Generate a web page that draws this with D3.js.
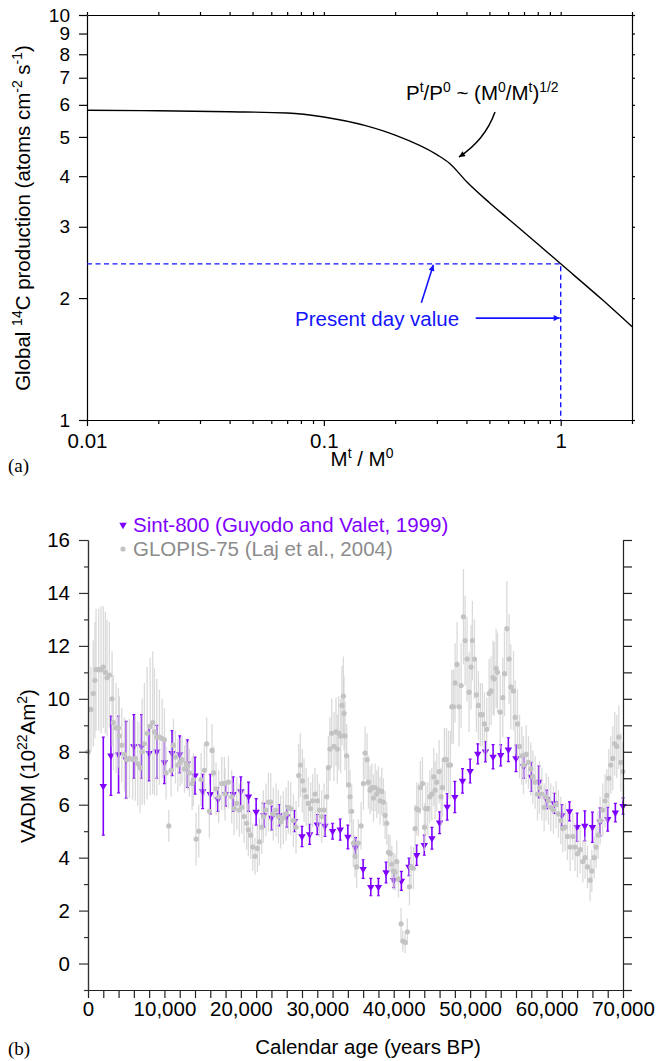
<!DOCTYPE html>
<html>
<head>
<meta charset="utf-8">
<script src="https://cdn.jsdelivr.net/npm/d3@7"></script>
<style>
body { margin: 0; background: #fff; }
svg { display: block; font-family: "Liberation Sans", Arial, Helvetica, sans-serif; }
</style>
</head>
<body>
<svg id="chart" width="657" height="1061"></svg>
<script>
// ---- panel (a): production rate vs dipole moment ----
const mRatio = [0.01, 0.02, 0.04, 0.07, 0.1, 0.15, 0.2, 0.3, 0.34, 0.4, 0.5, 0.6, 0.8, 1, 1.5, 2];
const prodRate = [5.82, 5.80, 5.77, 5.73, 5.6, 5.33, 5.05, 4.52, 4.3, 3.88, 3.44, 3.14, 2.72, 2.43, 1.98, 1.70];
const presentM = 1;
const presentP = 2.43;
const xTicksA = [0.01, 0.1, 1];
const yTicksA = [1, 2, 3, 4, 5, 6, 7, 8, 9, 10];

// ---- panel (b): VADM records ----
const sintAge = d3.range(2000, 70001, 1000);
const sintVadm = [6.7, 7.85, 7.9, 7.7, 8.2, 8.2, 7.95, 8.0, 7.6, 7.95,
  7.9, 7.55, 7.1, 6.5, 6.4, 6.2, 6.4, 6.4, 6.5, 6.3,
  5.73, 5.6, 5.5, 5.6, 5.55, 5.38, 4.8, 4.88, 5.25, 5.2,
  5.0, 5.06, 4.78, 4.38, 3.57, 2.89, 2.89, 3.44, 3.15, 3.12,
  3.65, 4.09, 4.47, 4.73, 5.32, 5.92, 6.29, 6.9, 7.27, 7.92,
  8.0, 7.81, 7.87, 8.08, 7.75, 7.45, 7.05, 6.86, 6.2, 6.05,
  5.6, 5.75, 5.15, 5.2, 5.15, 5.35, 5.45, 5.7, 5.95];
const sintErr = [1.85, 1.5, 1.45, 1.45, 1.2, 1.2, 1.05, 1.0, 0.8, 0.85,
  0.7, 0.9, 0.7, 0.65, 0.75, 0.45, 0.45, 0.65, 0.55, 0.55,
  0.5, 0.45, 0.45, 0.4, 0.4, 0.4, 0.38, 0.38, 0.38, 0.4,
  0.3, 0.4, 0.45, 0.38, 0.35, 0.33, 0.33, 0.39, 0.28, 0.36,
  0.33, 0.38, 0.38, 0.41, 0.41, 0.5, 0.59, 0.46, 0.45, 0.38,
  0.38, 0.46, 0.4, 0.45, 0.5, 0.45, 0.55, 0.6, 0.35, 0.38,
  0.4, 0.36, 0.53, 0.57, 0.57, 0.53, 0.45, 0.35, 0.31];

const glopisAge = [0, 390, 690, 900, 1050, 1400, 1700, 2000, 2270, 2490,
  2800, 3150, 3320, 3670, 3980, 4100, 4420, 4770, 5070, 5420,
  5850, 6200, 6510, 6820, 7080, 7380, 7740, 8130, 8470, 8690,
  9000, 9350, 9700, 10000, 10220, 10570, 10870, 11180, 11440, 11750,
  12050, 12300, 12620, 12830, 13050, 13270, 13620, 13790, 14140, 14490,
  14790, 15230, 15530, 15880, 16230, 16450, 16750, 17100, 17500, 17840,
  17930, 18370, 18800, 19110, 19460, 19800, 20110, 20420, 20760, 20980,
  21290, 21550, 21850, 22160, 22420, 22730, 22950, 23290, 23600, 23900,
  24250, 24600, 24910, 25210, 25560, 25910, 26210, 26520, 26870, 27220,
  27570, 27790, 28050, 28270, 28530, 28830, 29140, 29400, 29700, 30010,
  30270, 30570, 30880, 31230, 31450, 31660, 31880, 32190, 32450, 32620,
  32800, 33060, 33230, 33410, 33500, 33630, 33840, 34110, 34280, 34500,
  34720, 34940, 35150, 35370, 35730, 36040, 36250, 36520, 36690, 36910,
  37130, 37350, 37560, 37780, 38000, 38220, 38440, 38650, 38870, 39090,
  39310, 39530, 39750, 39960, 40180, 40400, 40620, 40960, 41180, 41490,
  41790, 42060, 42270, 42580, 42800, 43010, 43230, 43490, 43760, 44020,
  44190, 44450, 44720, 44980, 45240, 45410, 45630, 45940, 46200, 46370,
  46630, 46900, 47160, 47420, 47590, 47810, 48030, 48290, 48550, 48820,
  49120, 49340, 49600, 49860, 50120, 50290, 50560, 50820, 51080, 51340,
  51600, 51860, 52170, 52480, 52740, 53000, 53140, 53400, 53580, 53930,
  54270, 54490, 54800, 55100, 55320, 55670, 55890, 56190, 56460, 56760,
  56980, 57330, 57630, 57940, 58200, 58500, 58810, 59070, 59380, 59680,
  59940, 60250, 60550, 60900, 61250, 61560, 61860, 62120, 62430, 62730,
  63080, 63430, 63730, 64040, 64390, 64740, 65040, 65350, 65700, 65920,
  66220, 66480, 66740, 67010, 67350, 67660, 67880, 68140, 68400, 68660,
  68920, 69190, 69450, 69710, 69970];
const glopisVadm = [8.0, 9.6, 10.2, 10.7, 11.1, 11.1, 11.1, 11.2, 11.0, 10.8,
  10.9, 10.0, 9.1, 8.9, 8.9, 8.6, 8.25, 7.9, 7.7, 7.75,
  7.7, 7.75, 7.55, 7.4, 8.0, 8.3, 8.7, 8.95, 9.1, 8.75,
  8.55, 8.55, 8.5, 8.45, 7.2, 5.2, 7.3, 8.25, 7.8, 7.5,
  7.6, 7.7, 7.35, 7.55, 7.45, 7.2, 6.8, 6.95, 4.7, 5.0,
  6.95, 7.3, 8.3, 5.75, 8.05, 7.2, 6.6, 6.3, 6.8, 6.8,
  6.4, 6.85, 6.3, 5.85, 6.05, 5.8, 5.9, 5.55, 5.3, 5.05,
  4.85, 4.4, 4.05, 4.35, 4.6, 5.15, 5.55, 5.8, 6.1, 6.1,
  5.65, 5.8, 5.55, 5.35, 5.5, 5.65, 5.9, 5.85, 5.4, 5.15,
  7.1, 7.5, 6.9, 6.55, 6.3, 6.05, 5.85, 6.15, 6.4, 6.15,
  5.8, 5.55, 5.8, 6.3, 7.4, 8.1, 8.7, 8.2, 8.75, 8.1,
  8.7, 8.6, 9.75, 10.1, 9.45, 8.6, 7.85, 6.75, 6.3, 5.75,
  4.55, 4.05, 3.65, 4.55, 5.2, 6.8, 7.95, 7.7, 6.85, 6.55,
  6.65, 6.25, 6.65, 6.4, 6.55, 6.15, 6.5, 6.1, 5.6, 5.3,
  4.2, 4.15, 3.75, 3.5, 3.45, 3.85, 3.2, 1.5, 0.85, 0.8,
  1.2, 2.9, 3.65, 3.6, 5.1, 5.85, 5.8, 6.65, 6.8, 5.15,
  5.85, 5.85, 6.3, 6.4, 7.05, 6.55, 6.85, 7.25, 6.3, 6.65,
  7.7, 7.7, 7.5, 7.5, 9.7, 9.7, 10.6, 11.3, 9.7, 10.5,
  13.1, 12.2, 11.5, 10.25, 11.2, 12.2, 11.5, 10.15, 9.75, 9.4,
  9.4, 9.05, 8.85, 10.2, 10.3, 10.8, 10.75, 11.15, 11.0, 9.5,
  10.05, 10.95, 12.65, 11.5, 10.45, 10.3, 9.3, 9.05, 8.2, 7.85,
  7.5, 7.9, 7.6, 7.35, 7.05, 6.85, 6.4, 6.65, 6.4, 5.9,
  6.3, 6.15, 5.9, 5.8, 6.0, 5.65, 5.4, 5.1, 5.15, 4.8,
  4.4, 4.8, 4.4, 4.15, 4.3, 3.85, 4.0, 3.65, 3.15, 3.5,
  4.0, 4.4, 4.85, 5.4, 5.8, 6.15, 6.35, 7.0, 7.5, 7.75,
  8.3, 8.2, 8.55, 7.6, 7.25];
const glopisErr = [1.0, 1.6, 2.0, 2.2, 2.3, 2.3, 2.4, 2.3, 2.3, 2.2,
  2.0, 1.8, 1.8, 1.7, 1.5, 1.5, 1.4, 1.4, 1.5, 1.5,
  1.5, 1.6, 1.6, 1.7, 2.0, 2.3, 2.5, 2.6, 2.7, 2.4,
  2.2, 1.8, 1.5, 1.2, 1.0, 0.6, 1.0, 1.0, 1.0, 1.0,
  0.9, 0.9, 0.9, 0.9, 0.9, 0.9, 1.0, 1.0, 1.0, 1.0,
  1.0, 1.0, 1.0, 1.0, 1.0, 1.0, 1.0, 1.0, 1.0, 1.0,
  1.0, 1.0, 1.0, 1.0, 1.0, 1.0, 1.0, 1.0, 1.0, 1.0,
  0.9, 0.9, 0.7, 0.9, 0.9, 1.0, 1.0, 1.0, 1.1, 1.1,
  1.0, 1.0, 1.0, 1.0, 1.0, 1.0, 1.0, 1.0, 1.0, 1.0,
  1.2, 1.2, 1.2, 1.2, 1.1, 1.0, 1.0, 1.0, 1.0, 1.0,
  1.0, 1.0, 1.0, 1.1, 1.2, 1.2, 1.3, 1.3, 1.3, 1.3,
  1.4, 1.4, 1.5, 1.5, 1.4, 1.3, 1.2, 1.1, 1.0, 1.0,
  0.9, 0.8, 0.8, 0.9, 0.9, 1.0, 1.0, 1.0, 1.0, 0.9,
  0.9, 0.9, 0.9, 0.9, 0.9, 0.9, 0.9, 0.9, 0.9, 0.8,
  0.7, 0.7, 0.7, 0.7, 0.7, 0.8, 0.7, 0.6, 0.4, 0.4,
  0.5, 0.7, 0.8, 0.8, 0.9, 1.0, 1.0, 1.0, 1.0, 0.9,
  1.0, 1.0, 1.0, 1.0, 1.1, 1.1, 1.1, 1.2, 1.1, 1.1,
  1.2, 1.2, 1.3, 1.3, 1.4, 1.4, 1.5, 1.6, 1.5, 1.6,
  1.8, 1.7, 1.6, 1.5, 1.6, 1.5, 1.5, 1.4, 1.3, 1.2,
  1.2, 1.2, 1.2, 1.3, 1.3, 1.4, 1.4, 1.5, 1.5, 1.4,
  1.5, 1.6, 1.8, 1.7, 1.6, 1.5, 1.4, 1.3, 1.2, 1.1,
  1.1, 1.1, 1.0, 1.0, 1.0, 1.0, 1.0, 1.0, 1.0, 0.9,
  0.9, 0.9, 0.9, 0.9, 0.9, 0.9, 0.9, 0.9, 0.9, 0.9,
  0.9, 0.9, 0.9, 0.9, 0.9, 0.8, 0.8, 0.8, 0.8, 0.8,
  0.8, 0.8, 0.9, 0.9, 1.0, 1.0, 1.0, 1.1, 1.1, 1.2,
  1.2, 1.2, 1.2, 1.1, 1.1];
const yTicksB = d3.range(0, 17, 2);
const xTicksB = d3.range(0, 70001, 2000);

const FS = 20.5;
const BLUE = "#1414ff";
const PURPLE = "#7f00ff";

const svg = d3.select("#chart");
svg.append("rect").attr("width", 657).attr("height", 1061).attr("fill", "#fff");

const defs = svg.append("defs");
function arrowHead(id, color) {
    defs.append("marker")
        .attr("id", id)
        .attr("viewBox", "0 0 10 10")
        .attr("refX", 10).attr("refY", 5)
        .attr("markerWidth", 9).attr("markerHeight", 6)
        .attr("markerUnits", "userSpaceOnUse")
        .attr("orient", "auto")
        .append("path")
        .attr("d", "M0,0L10,5L0,10z")
        .attr("fill", color);
}
arrowHead("arrBlack", "#000");
arrowHead("arrBlue", BLUE);

// text with superscripts: parts = [[text, isSup], ...]
function rich(el, parts, fs) {
    let up = false;
    parts.forEach(function (p) {
        const t = el.append("tspan").text(p[0]);
        if (p[1]) {
            t.attr("font-size", fs * 0.68);
            if (!up) { t.attr("dy", -0.4 * fs); up = true; }
        } else if (up) {
            t.attr("dy", 0.4 * fs);
            up = false;
        }
    });
    return el;
}

function styleAxis(g, color, fs) {
    g.attr("font-family", null).attr("font-size", fs || FS);
    g.selectAll("path,line").attr("stroke", color).attr("stroke-width", 1.2);
    g.selectAll("text").attr("fill", "#000");
}

// ================= panel (a) =================
const xA = d3.scaleLog().domain([0.01, 2]).range([87, 632]);
const yA = d3.scaleLog().domain([1, 10]).range([420, 15]);

const minorA = [];
[0.01, 0.1].forEach(function (dec) {
    for (let k = 2; k <= 9; k++) minorA.push(+(dec * k).toFixed(3));
});
minorA.push(2);

const gA = svg.append("g");

gA.append("g").attr("transform", "translate(0,420)")
    .call(d3.axisBottom(xA).tickValues(xTicksA).tickFormat(d => String(d)).tickSize(6).tickPadding(7).tickSizeOuter(0))
    .call(g => styleAxis(g, "#000"));
gA.append("g").attr("transform", "translate(0,420)")
    .call(d3.axisBottom(xA).tickValues(minorA).tickFormat("").tickSize(4).tickSizeOuter(0))
    .call(g => styleAxis(g, "#000"));
gA.append("g").attr("transform", "translate(0,15)")
    .call(d3.axisTop(xA).tickValues(xTicksA.concat(minorA)).tickFormat("").tickSize(3).tickSizeOuter(0))
    .call(g => styleAxis(g, "#000"));
gA.append("g").attr("transform", "translate(87,0)")
    .call(d3.axisLeft(yA).tickValues(yTicksA).tickFormat(d3.format("d")).tickSize(8).tickPadding(9).tickSizeOuter(0))
    .call(g => styleAxis(g, "#000", 19));
gA.append("g").attr("transform", "translate(632,0)")
    .call(d3.axisRight(yA).tickValues(yTicksA).tickFormat("").tickSize(3).tickSizeOuter(0))
    .call(g => styleAxis(g, "#000"));

// present day dashed guides
gA.append("path")
    .attr("d", d3.line()([[xA(0.01), yA(presentP)], [xA(presentM), yA(presentP)], [xA(presentM), yA(1)]]))
    .attr("fill", "none").attr("stroke", BLUE).attr("stroke-width", 1.4)
    .attr("stroke-dasharray", "5,3.5");

// production curve
const curveData = mRatio.map((m, i) => [m, prodRate[i]]);
gA.append("path")
    .datum(curveData)
    .attr("d", d3.line().x(d => xA(d[0])).y(d => yA(d[1])).curve(d3.curveMonotoneX))
    .attr("fill", "none").attr("stroke", "#000").attr("stroke-width", 1.4);

// formula annotation
rich(gA.append("text").attr("x", 406).attr("y", 100).attr("font-size", FS),
    [["P"], ["t", 1], ["/P"], ["0", 1], [" ~ (M"], ["0", 1], ["/M"], ["t", 1], [")"], ["1/2", 1]], FS);
gA.append("path")
    .attr("d", "M495,112Q485,140 459,157")
    .attr("fill", "none").attr("stroke", "#000").attr("stroke-width", 1.5)
    .attr("marker-end", "url(#arrBlack)");

// present day value
gA.append("text").attr("x", 295).attr("y", 326).attr("font-size", FS)
    .attr("fill", BLUE).text("Present day value");
const tipH = [xA(0.29), yA(presentP) + 1];
gA.append("line")
    .attr("x1", tipH[0] - 12).attr("y1", tipH[1] + 38)
    .attr("x2", tipH[0]).attr("y2", tipH[1])
    .attr("stroke", BLUE).attr("stroke-width", 1.6)
    .attr("marker-end", "url(#arrBlue)");
const tipV = [xA(presentM) - 1, yA(1.785)];
gA.append("line")
    .attr("x1", tipV[0] - 84).attr("y1", tipV[1])
    .attr("x2", tipV[0]).attr("y2", tipV[1])
    .attr("stroke", BLUE).attr("stroke-width", 1.6)
    .attr("marker-end", "url(#arrBlue)");

// axis titles (a)
rich(gA.append("text").attr("x", 362).attr("y", 466).attr("text-anchor", "middle").attr("font-size", FS),
    [["M"], ["t", 1], [" / M"], ["0", 1]], FS);
rich(gA.append("text").attr("transform", "translate(30,218) rotate(-90)").attr("text-anchor", "middle").attr("font-size", FS),
    [["Global "], ["14", 1], ["C production (atoms cm"], ["-2", 1], [" s"], ["-1", 1], [")"]], FS);
gA.append("text").attr("x", 8).attr("y", 472).attr("font-family", "'Liberation Serif', 'Times New Roman', serif")
    .attr("font-size", 19).text("(a)");

// ================= panel (b) =================
const xB = d3.scaleLinear().domain([0, 70000]).range([88, 623]);
const yB = d3.scaleLinear().domain([-1, 16]).range([990, 540]);
const gB = svg.append("g");

// Sint-800 (drawn first, GLOPIS overlays it)
const sint = sintAge.map((a, i) => ({ age: a, v: sintVadm[i], e: sintErr[i] }));
const sintG = gB.append("g");
sintG.selectAll("line.bar").data(sint).join("line")
    .attr("class", "bar")
    .attr("x1", d => xB(d.age)).attr("x2", d => xB(d.age))
    .attr("y1", d => yB(d.v + d.e)).attr("y2", d => yB(d.v - d.e))
    .attr("stroke", PURPLE).attr("stroke-width", 1.6);
sintG.selectAll("path.cap").data(sint).join("path")
    .attr("class", "cap")
    .attr("d", d => "M" + (xB(d.age) - 1.5) + "," + yB(d.v + d.e) + "h3M" + (xB(d.age) - 1.5) + "," + yB(d.v - d.e) + "h3")
    .attr("stroke", PURPLE).attr("stroke-width", 1.2);
const tri = d3.symbol().type(d3.symbolTriangle).size(24);
sintG.selectAll("path.pt").data(sint).join("path")
    .attr("class", "pt")
    .attr("d", tri)
    .attr("transform", d => "translate(" + xB(d.age) + "," + yB(d.v) + ") rotate(180)")
    .attr("fill", PURPLE);

// GLOPIS-75
const glopis = glopisAge.map((a, i) => ({ age: a, v: glopisVadm[i], e: glopisErr[i] }));
const glopG = gB.append("g");
glopG.selectAll("line").data(glopis).join("line")
    .attr("x1", d => xB(d.age)).attr("x2", d => xB(d.age))
    .attr("y1", d => yB(d.v + d.e)).attr("y2", d => yB(d.v - d.e))
    .attr("stroke", "#cdcdcd").attr("stroke-width", 1.3).attr("stroke-opacity", 0.75);
glopG.selectAll("circle").data(glopis).join("circle")
    .attr("cx", d => xB(d.age)).attr("cy", d => yB(d.v))
    .attr("r", 2.6).attr("fill", "#c3c3c3");

// axes (b)
gB.append("g").attr("transform", "translate(0,990)")
    .call(d3.axisBottom(xB).tickValues(xTicksB).tickFormat(d => d % 10000 === 0 ? d3.format(",")(d) : "")
        .tickSize(8).tickPadding(3).tickSizeOuter(0))
    .call(g => styleAxis(g, "#222"));
gB.append("g").attr("transform", "translate(88,0)")
    .call(d3.axisLeft(yB).tickValues(yTicksB).tickFormat(d3.format("d")).tickSize(9).tickPadding(9).tickSizeOuter(0))
    .call(g => styleAxis(g, "#333"));
gB.append("g").attr("transform", "translate(88,0)")
    .call(d3.axisLeft(yB).tickValues(d3.range(-1, 16, 2)).tickFormat("").tickSize(4).tickSizeOuter(0))
    .call(g => styleAxis(g, "#333"));
gB.append("g").attr("transform", "translate(623,0)")
    .call(d3.axisRight(yB).tickValues(d3.range(-1, 17)).tickFormat("").tickSize(9).tickSizeOuter(0))
    .call(g => styleAxis(g, "#222"));

// legend
gB.append("path").attr("d", tri).attr("transform", "translate(123,525) rotate(180)").attr("fill", PURPLE);
gB.append("text").attr("x", 133).attr("y", 532).attr("font-size", FS).attr("fill", PURPLE)
    .text("Sint-800 (Guyodo and Valet, 1999)");
gB.append("circle").attr("cx", 123).attr("cy", 549).attr("r", 2.6).attr("fill", "#c3c3c3");
gB.append("text").attr("x", 133).attr("y", 556).attr("font-size", FS).attr("fill", "#8c8c8c")
    .text("GLOPIS-75 (Laj et al., 2004)");

// axis titles (b)
gB.append("text").attr("x", 368).attr("y", 1054).attr("text-anchor", "middle").attr("font-size", FS)
    .text("Calendar age (years BP)");
rich(gB.append("text").attr("transform", "translate(35,766) rotate(-90)").attr("text-anchor", "middle").attr("font-size", FS),
    [["VADM (10"], ["22", 1], ["Am"], ["2", 1], [")"]], FS);
gB.append("text").attr("x", 8).attr("y", 1055).attr("font-family", "'Liberation Serif', 'Times New Roman', serif")
    .attr("font-size", 19).text("(b)");
</script>
</body>
</html>
